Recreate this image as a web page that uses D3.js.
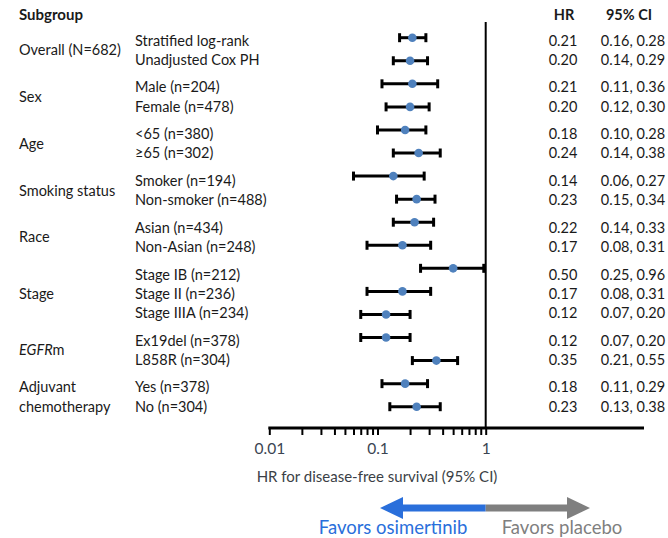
<!DOCTYPE html>
<html>
<head>
<meta charset="utf-8">
<script src="https://cdn.jsdelivr.net/npm/d3@7"></script>
<style>
  html, body { margin: 0; padding: 0; background: #fff; }
  svg { display: block; font-family: Lato, "Noto Sans", sans-serif; }
</style>
</head>
<body>
<svg id="chart" width="668" height="538"></svg>
<script>
// Subgroup forest plot: hazard ratios for disease-free survival

const groups = ["Overall (N=682)", "Sex", "Age", "Smoking status", "Race", "Stage", "EGFRm", "Adjuvant chemotherapy"];
const subgroups = [
  "Stratified log-rank", "Unadjusted Cox PH",
  "Male (n=204)", "Female (n=478)",
  "<65 (n=380)", "\u226565 (n=302)",
  "Smoker (n=194)", "Non-smoker (n=488)",
  "Asian (n=434)", "Non-Asian (n=248)",
  "Stage IB (n=212)", "Stage II (n=236)", "Stage IIIA (n=234)",
  "Ex19del (n=378)", "L858R (n=304)",
  "Yes (n=378)", "No (n=304)"
];
const groupOf = [0, 0, 1, 1, 2, 2, 3, 3, 4, 4, 5, 5, 5, 6, 6, 7, 7];
const hr    = [0.21, 0.20, 0.21, 0.20, 0.18, 0.24, 0.14, 0.23, 0.22, 0.17, 0.50, 0.17, 0.12, 0.12, 0.35, 0.18, 0.23];
const ciLow = [0.16, 0.14, 0.11, 0.12, 0.10, 0.14, 0.06, 0.15, 0.14, 0.08, 0.25, 0.08, 0.07, 0.07, 0.21, 0.11, 0.13];
const ciHigh= [0.28, 0.29, 0.36, 0.30, 0.28, 0.38, 0.27, 0.34, 0.33, 0.31, 0.96, 0.31, 0.20, 0.20, 0.55, 0.29, 0.38];
const majorTicks = [0.01, 0.1, 1];
const tickLabels = ["0.01", "0.1", "1"];

const svg = d3.select("#chart");
const fmt2 = d3.format(".2f");
const ink = "#1a1a1a";
const dotColor = "#4f81bd";

// log scale for hazard ratio
const x = d3.scaleLog().domain([0.01, 1]).range([269.3, 485.7]);
const axisY = 428;
const axisEnd = 644;

// marker rows: evenly spaced
const rowIdx = d3.range(subgroups.length);
const yMark = d3.scalePoint().domain(rowIdx).range([37.7, 406.7]);

// text rows: grouped, with extra space between groups
const textTop = 40.5, withinStep = 19.3, groupStep = 27.5;
const yText = rowIdx.map(i => {
  let y = textTop;
  for (let k = 1; k <= i; k++) y += (groupOf[k] === groupOf[k - 1]) ? withinStep : groupStep;
  return y;
});

// headers
svg.append("text").attr("x", 19).attr("y", 15).attr("dy", "0.35em")
  .attr("font-size", 15).attr("font-weight", "bold").attr("fill", ink).text("Subgroup");
svg.append("text").attr("x", 564).attr("y", 15).attr("dy", "0.35em").attr("text-anchor", "middle")
  .attr("font-size", 14.5).attr("font-weight", "bold").attr("fill", ink).text("HR");
svg.append("text").attr("x", 629).attr("y", 15).attr("dy", "0.35em").attr("text-anchor", "middle")
  .attr("font-size", 14.5).attr("font-weight", "bold").attr("fill", ink).text("95% CI");

// group labels
const fs = 14.5;
groups.forEach((g, gi) => {
  const rows = rowIdx.filter(i => groupOf[i] === gi);
  if (g === "Adjuvant chemotherapy") {
    const parts = g.split(" ");
    parts.forEach((p, k) => {
      svg.append("text").attr("x", 19).attr("y", yText[rows[k]]).attr("dy", "0.35em")
        .attr("font-size", fs).attr("fill", ink).text(p);
    });
    return;
  }
  const yc = d3.mean(rows, i => yText[i]);
  const t = svg.append("text").attr("x", 19).attr("y", yc).attr("dy", "0.35em")
    .attr("font-size", fs).attr("fill", ink);
  if (g === "EGFRm") {
    t.append("tspan").attr("font-style", "italic").text("EGFR");
    t.append("tspan").text("m");
  } else {
    t.text(g);
  }
});

// subgroup labels and value columns
const rowsSel = svg.append("g").selectAll("g").data(rowIdx).join("g");
rowsSel.append("text").attr("x", 135).attr("y", i => yText[i]).attr("dy", "0.35em")
  .attr("font-size", fs).attr("fill", ink).text(i => subgroups[i]);
rowsSel.append("text").attr("x", 563).attr("y", i => yText[i]).attr("dy", "0.35em")
  .attr("text-anchor", "middle").attr("font-size", fs).attr("fill", ink).text(i => fmt2(hr[i]));
rowsSel.append("text").attr("x", 633).attr("y", i => yText[i]).attr("dy", "0.35em")
  .attr("text-anchor", "middle").attr("font-size", fs).attr("fill", ink)
  .text(i => fmt2(ciLow[i]) + ", " + fmt2(ciHigh[i]));

// reference line at HR = 1
svg.append("line").attr("x1", x(1)).attr("x2", x(1)).attr("y1", 22).attr("y2", axisY)
  .attr("stroke", "#000").attr("stroke-width", 2);

// axis with minor ticks
const allTicks = [];
[0.01, 0.1].forEach(d => { for (let m = 1; m <= 9; m++) allTicks.push(+(d * m).toPrecision(3)); });
allTicks.push(1);
const axis = d3.axisBottom(x).tickValues(allTicks).tickSize(7).tickSizeOuter(0)
  .tickFormat(d => { const k = majorTicks.indexOf(d); return k >= 0 ? tickLabels[k] : ""; });
const gAxis = svg.append("g").attr("transform", `translate(0,${axisY})`).call(axis);
gAxis.select(".domain").remove();
gAxis.selectAll(".tick line").attr("stroke", "#000").attr("stroke-width", 2);
gAxis.selectAll(".tick text").attr("font-family", "Lato, sans-serif").attr("font-size", 15.5)
  .attr("fill", "#3b4452").attr("dy", "0.35em").attr("y", 21);
svg.append("line").attr("x1", x(0.01) - 1).attr("x2", axisEnd).attr("y1", axisY).attr("y2", axisY)
  .attr("stroke", "#000").attr("stroke-width", 3);

// axis title
svg.append("text").attr("x", 377).attr("y", 477).attr("dy", "0.35em").attr("text-anchor", "middle")
  .attr("font-size", 15).attr("fill", "#3b3f46").text("HR for disease-free survival (95% CI)");

// confidence intervals and point estimates
const marks = svg.append("g").selectAll("g").data(rowIdx).join("g");
marks.append("line").attr("x1", i => x(ciLow[i])).attr("x2", i => x(ciHigh[i]))
  .attr("y1", i => yMark(i)).attr("y2", i => yMark(i)).attr("stroke", "#000").attr("stroke-width", 3);
marks.append("line").attr("x1", i => x(ciLow[i])).attr("x2", i => x(ciLow[i]))
  .attr("y1", i => yMark(i) - 4.5).attr("y2", i => yMark(i) + 4.5).attr("stroke", "#000").attr("stroke-width", 3);
marks.append("line").attr("x1", i => x(ciHigh[i])).attr("x2", i => x(ciHigh[i]))
  .attr("y1", i => yMark(i) - 4.5).attr("y2", i => yMark(i) + 4.5).attr("stroke", "#000").attr("stroke-width", 3);
marks.append("circle").attr("cx", i => x(hr[i])).attr("cy", i => yMark(i)).attr("r", 4.3)
  .attr("fill", dotColor);

// direction arrows
const arrowY = 508, shaft = 7, headHalf = 11, headLen = 23;
const mid = x(1);
const leftTip = 380, rightTip = 590;
svg.append("path").attr("fill", "#2a6fdb").attr("d",
  `M${mid},${arrowY - shaft / 2} L${leftTip + headLen},${arrowY - shaft / 2} L${leftTip + headLen},${arrowY - headHalf}
   L${leftTip},${arrowY} L${leftTip + headLen},${arrowY + headHalf} L${leftTip + headLen},${arrowY + shaft / 2} L${mid},${arrowY + shaft / 2} Z`);
svg.append("path").attr("fill", "#7f7f7f").attr("d",
  `M${mid},${arrowY - shaft / 2} L${rightTip - headLen},${arrowY - shaft / 2} L${rightTip - headLen},${arrowY - headHalf}
   L${rightTip},${arrowY} L${rightTip - headLen},${arrowY + headHalf} L${rightTip - headLen},${arrowY + shaft / 2} L${mid},${arrowY + shaft / 2} Z`);
svg.append("text").attr("x", 393).attr("y", 528).attr("dy", "0.35em").attr("text-anchor", "middle")
  .attr("font-size", 18.5).attr("fill", "#2a6fdb").text("Favors osimertinib");
svg.append("text").attr("x", 562).attr("y", 528).attr("dy", "0.35em").attr("text-anchor", "middle")
  .attr("font-size", 18.5).attr("fill", "#7f7f7f").text("Favors placebo");
</script>
</body>
</html>
